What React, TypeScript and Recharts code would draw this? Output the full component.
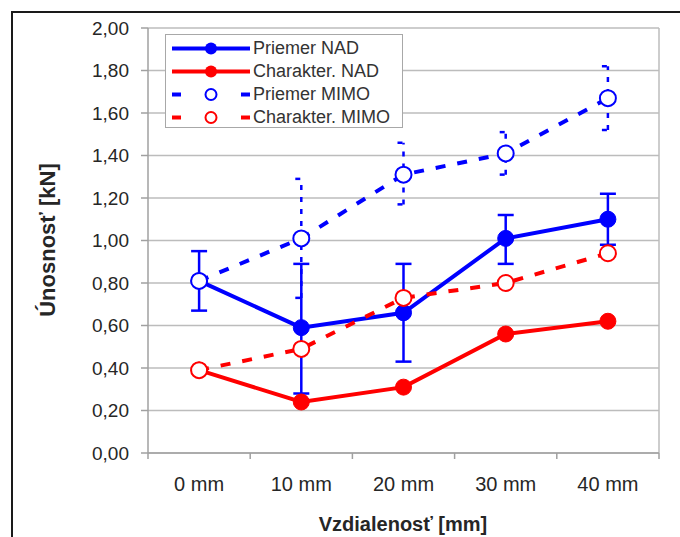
import {
  CartesianGrid,
  ErrorBar,
  Legend,
  Line,
  LineChart,
  ReferenceLine,
  XAxis,
  YAxis,
} from "recharts";

const categories = ["0 mm", "10 mm", "20 mm", "30 mm", "40 mm"];
const priemerNad = [0.81, 0.59, 0.66, 1.01, 1.1];
const nadLow = [0.67, 0.28, 0.43, 0.89, 0.98];
const nadHigh = [0.95, 0.89, 0.89, 1.12, 1.22];
const charakterNad = [0.39, 0.24, 0.31, 0.56, 0.62];
const priemerMimo = [0.81, 1.01, 1.31, 1.41, 1.67];
const mimoLow: (number | null)[] = [null, 0.73, 1.17, 1.31, 1.52];
const mimoHigh: (number | null)[] = [null, 1.29, 1.46, 1.51, 1.82];
const charakterMimo = [0.39, 0.49, 0.73, 0.8, 0.94];
const yTicks = [0, 0.2, 0.4, 0.6, 0.8, 1, 1.2, 1.4, 1.6, 1.8, 2];

const BLUE = "#0000ff";
const RED = "#ff0000";
const FONT = "'Liberation Sans', Arial, sans-serif";
const TEXT = "#262626";
const GRID = "#bcbcbc";

const rows = categories.map((c, i) => ({
  x: i,
  name: c,
  priemerNad: priemerNad[i],
  charakterNad: charakterNad[i],
  priemerMimo: priemerMimo[i],
  charakterMimo: charakterMimo[i],
  errNad: [priemerNad[i] - nadLow[i], nadHigh[i] - priemerNad[i]],
  errMimo:
    mimoLow[i] == null
      ? null
      : [priemerMimo[i] - (mimoLow[i] as number), (mimoHigh[i] as number) - priemerMimo[i]],
}));

// ticks at the category centres (labels) and between them (tick marks)
const xTicks = categories.flatMap((_, i) => [i - 0.5, i]).concat(categories.length - 0.5);

const legendItems = [
  { label: "Priemer NAD", color: BLUE, dashed: false },
  { label: "Charakter. NAD", color: RED, dashed: false },
  { label: "Priemer MIMO", color: BLUE, dashed: true },
  { label: "Charakter. MIMO", color: RED, dashed: true },
];

function XTick(props: any) {
  const { x, y, payload } = props;
  const v = payload.value;
  if (Number.isInteger(v)) {
    return (
      <text x={x} y={y + 38} textAnchor="middle" fontSize={20} fill={TEXT} fontFamily={FONT}>
        {categories[v]}
      </text>
    );
  }
  return <line x1={x} x2={x} y1={y} y2={y + 6} stroke="#a0a0a0" strokeWidth={1.5} />;
}

function LegendBox() {
  return (
    <div
      style={{
        width: 238,
        height: 94,
        boxSizing: "border-box",
        border: "1px solid #a8a8a8",
        background: "#fff",
        paddingTop: 2,
        fontFamily: FONT,
        fontSize: 18,
        color: "#333",
      }}
    >
      {legendItems.map((it) => (
        <div key={it.label} style={{ display: "flex", alignItems: "center", height: 23 }}>
          <svg width={87} height={23} style={{ flex: "none" }}>
            {it.dashed ? (
              <>
                <line x1={6} x2={15} y1={11.5} y2={11.5} stroke={it.color} strokeWidth={4} />
                <line x1={75} x2={84} y1={11.5} y2={11.5} stroke={it.color} strokeWidth={4} />
                <circle cx={45} cy={11.5} r={5.5} fill="#fff" stroke={it.color} strokeWidth={2} />
              </>
            ) : (
              <>
                <line x1={6} x2={84} y1={11.5} y2={11.5} stroke={it.color} strokeWidth={4} />
                <circle cx={45} cy={11.5} r={6} fill={it.color} />
              </>
            )}
          </svg>
          <span style={{ whiteSpace: "nowrap", lineHeight: "23px" }}>{it.label}</span>
        </div>
      ))}
    </div>
  );
}

export default function App() {
  return (
    <div
      style={{
        position: "fixed",
        left: 0,
        top: 0,
        width: 680,
        height: 537,
        overflow: "hidden",
        background: "#fff",
      }}
    >
      <div
        style={{
          position: "absolute",
          left: 11,
          top: 11,
          width: 800,
          height: 700,
          borderLeft: "2px solid #1a1a1a",
          borderTop: "2px solid #1a1a1a",
        }}
      />
      <div style={{ position: "absolute", left: 0, top: 0 }}>
        <LineChart
          width={680}
          height={537}
          data={rows}
          margin={{ top: 28, right: 21, left: 0, bottom: 0 }}
        >
          <CartesianGrid stroke={GRID} strokeWidth={1.5} vertical={false} />
          <ReferenceLine x={4.5} stroke={GRID} strokeWidth={1.5} />
          <XAxis
            type="number"
            dataKey="x"
            domain={[-0.5, 4.5]}
            ticks={xTicks}
            interval={0}
            allowDataOverflow
            tickSize={0}
            tickMargin={0}
            tickLine={false}
            tick={<XTick />}
            height={84}
            axisLine={{ stroke: "#a0a0a0", strokeWidth: 1.5 }}
            label={{
              content: () => (
                <text
                  x={403}
                  y={531}
                  textAnchor="middle"
                  fontSize={20}
                  fontWeight="bold"
                  fill={TEXT}
                  fontFamily={FONT}
                >
                  Vzdialenosť [mm]
                </text>
              ),
            }}
          />
          <YAxis
            type="number"
            domain={[0, 2]}
            ticks={yTicks}
            interval={0}
            width={148}
            tickSize={7}
            tickMargin={12}
            tick={{ fontSize: 19, fill: TEXT, fontFamily: FONT }}
            tickFormatter={(v: number) => v.toFixed(2).replace(".", ",")}
            tickLine={{ stroke: "#a0a0a0", strokeWidth: 1.5 }}
            axisLine={{ stroke: "#a0a0a0", strokeWidth: 1.5 }}
            label={{
              content: () => (
                <text
                  x={55}
                  y={240}
                  transform="rotate(-90 55 240)"
                  textAnchor="middle"
                  fontSize={22}
                  fontWeight="bold"
                  fill={TEXT}
                  fontFamily={FONT}
                >
                  Únosnosť [kN]
                </text>
              ),
            }}
          />
          <Legend
            layout="vertical"
            align="center"
            verticalAlign="middle"
            wrapperStyle={{ left: 165, top: 34, width: 238, height: 94 }}
            content={() => <LegendBox />}
          />
          <Line
            dataKey="priemerNad"
            stroke={BLUE}
            strokeWidth={4}
            dot={{ r: 8, fill: BLUE, stroke: BLUE, strokeWidth: 1 }}
            isAnimationActive={false}
          >
            <ErrorBar dataKey="errNad" width={8} stroke={BLUE} strokeWidth={2.5} />
          </Line>
          <Line
            dataKey="charakterNad"
            stroke={RED}
            strokeWidth={4}
            dot={{ r: 8, fill: RED, stroke: RED, strokeWidth: 1 }}
            isAnimationActive={false}
          />
          <Line
            dataKey="priemerMimo"
            stroke={BLUE}
            strokeWidth={4}
            strokeDasharray="10 12"
            dot={{ r: 8, fill: "#fff", stroke: BLUE, strokeWidth: 2, strokeDasharray: "none" }}
            isAnimationActive={false}
          >
            <ErrorBar
              dataKey="errMimo"
              width={6}
              stroke={BLUE}
              strokeWidth={2.5}
              strokeDasharray="5 7"
            />
          </Line>
          <Line
            dataKey="charakterMimo"
            stroke={RED}
            strokeWidth={4}
            strokeDasharray="10 12"
            dot={{ r: 8, fill: "#fff", stroke: RED, strokeWidth: 2, strokeDasharray: "none" }}
            isAnimationActive={false}
          />
        </LineChart>
      </div>
    </div>
  );
}
